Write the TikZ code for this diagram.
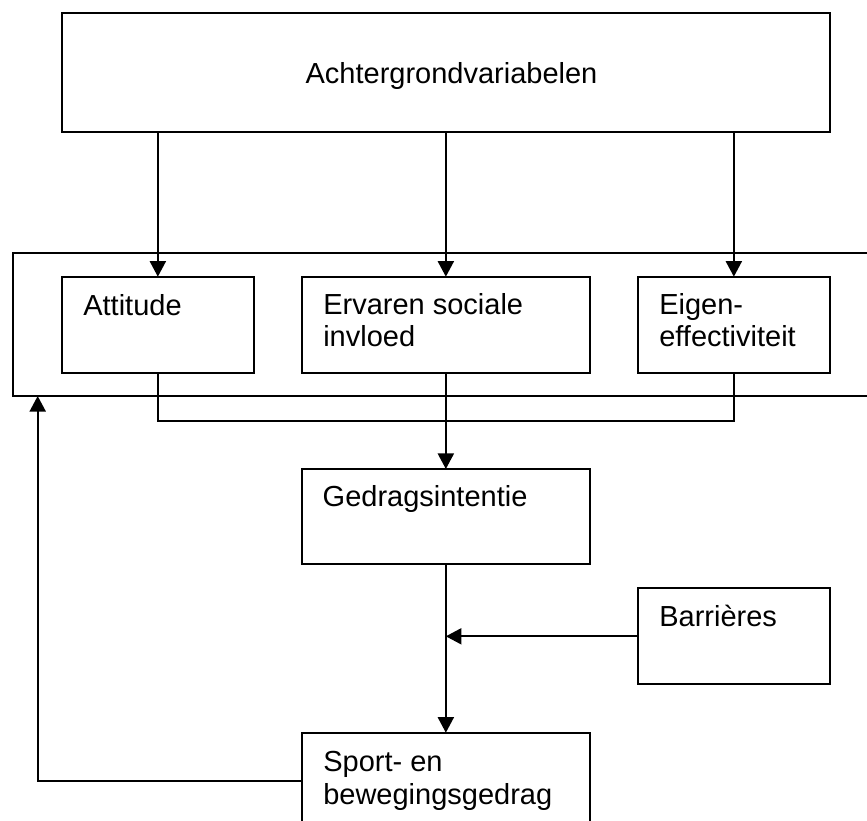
\documentclass[tikz,border=0pt]{standalone}
\usepackage{fontspec}
\setmainfont{Liberation Sans}
\usetikzlibrary{arrows.meta,fit}
\begin{document}
\begin{tikzpicture}[x=0.5pt,y=-0.5pt,
  box/.style={draw, line width=1.1pt, inner sep=0pt, outer sep=0pt, rectangle},
  txt/.style={inner sep=0pt, outer sep=0pt, anchor=base west, align=left,
    font=\fontsize{14.5pt}{16.35pt}\selectfont},
  link/.style={line width=1.1pt},
  flow/.style={line width=1.1pt, -{Triangle[length=7.8pt,width=8pt]}}]
\useasboundingbox (0,0) rectangle (867,820);
\clip (0,0) rectangle (867,820);

% boxes
\node[box, fit={(61.7,12.7) (830,132.3)}] (top) {};
\node[box, fit={(13.3,252.7) (900,396)}] (group) {};
\node[box, fit={(61.7,276.7) (254,372.7)}] (att) {};
\node[box, fit={(301.7,276.7) (590,372.7)}] (erv) {};
\node[box, fit={(637.7,276.7) (830,372.7)}] (eig) {};
\node[box, fit={(301.7,469) (590,564.3)}] (ged) {};
\node[box, fit={(637.7,588.3) (830,684.3)}] (bar) {};
\node[box, fit={(301.7,732.7) (590,828.7)}] (spo) {};

% labels (multi-line labels are placed by the baseline of their last line)
\node[txt, anchor=base] (topT) at (451.5,83.3) {Achtergrondvariabelen};
\node[txt] (attT) at (83.3,315) {Attitude};
\node[txt] (ervT) at (323.3,346.7) {Ervaren sociale\\invloed};
\node[txt] (eigT) at (659.3,346.7) {Eigen-\\effectiviteit};
\node[txt] (gedT) at (322.7,506) {Gedragsintentie};
\node[txt] (barT) at (659.3,626.7) {Barrières};
\node[txt] (spoT) at (323.3,804) {Sport- en\\bewegingsgedrag};

% connectors
\draw[flow] (top.south -| att.north) -- (att.north);
\draw[flow] (top.south -| erv.north) -- (erv.north);
\draw[flow] (top.south -| eig.north) -- (eig.north);

\coordinate (join) at (445.85,421);
\draw[link] (att.south) |- (join) -| (eig.south);
\draw[flow] (erv.south) -- (ged.north);
\draw[flow] (ged.south) -- (spo.north);
\draw[flow] (bar.west) -- (bar.west -| ged.south);

\coordinate (fb) at (37.7,396);
\draw[flow] (spo.west) -| (fb);
\end{tikzpicture}
\end{document}
